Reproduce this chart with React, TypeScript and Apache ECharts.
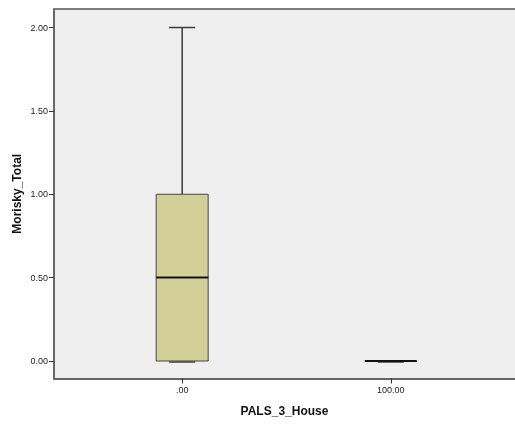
import React, { useEffect, useRef } from "react";
import * as echarts from "echarts";

// Group positions on the PALS_3_House axis and their tick labels
const groupValues = [0, 100];
const groupLabels = [".00", "100.00"];

// Five-number summaries of Morisky_Total per group
const whiskerLow = [0, 0];
const q1 = [0, 0];
const median = [0.5, 0];
const q3 = [1, 0];
const whiskerHigh = [2, 0];

const yTicks = [0, 0.5, 1, 1.5, 2];

const FONT = "'Liberation Sans', Arial, sans-serif";

export default function App() {
  const ref = useRef<HTMLDivElement>(null);

  useEffect(() => {
    if (!ref.current) return;
    const chart = echarts.init(ref.current, undefined, { renderer: "svg" });

    const data = groupValues.map((g, i) => [
      g,
      whiskerLow[i],
      q1[i],
      median[i],
      q3[i],
      whiskerHigh[i],
    ]);

    const halfBox = 26;
    const halfCap = 13;

    const renderItem = (params: any, api: any) => {
      const x = api.value(0);
      const lo = api.coord([x, api.value(1)]);
      const b1 = api.coord([x, api.value(2)]);
      const med = api.coord([x, api.value(3)]);
      const b3 = api.coord([x, api.value(4)]);
      const hi = api.coord([x, api.value(5)]);
      const cx = lo[0];
      const children: any[] = [];
      const whiskerStyle = { stroke: "#3a3a3a", lineWidth: 1.5 };

      // upper whisker and cap
      children.push({
        type: "line",
        shape: { x1: cx, y1: b3[1], x2: cx, y2: hi[1] },
        style: whiskerStyle,
      });
      children.push({
        type: "line",
        shape: { x1: cx - halfCap, y1: hi[1], x2: cx + halfCap, y2: hi[1] },
        style: whiskerStyle,
      });
      // lower whisker and cap
      children.push({
        type: "line",
        shape: { x1: cx, y1: b1[1], x2: cx, y2: lo[1] },
        style: whiskerStyle,
      });
      children.push({
        type: "line",
        shape: { x1: cx - halfCap, y1: lo[1] + 1, x2: cx + halfCap, y2: lo[1] + 1 },
        style: whiskerStyle,
      });
      // box
      if (b1[1] - b3[1] > 0.5) {
        children.push({
          type: "rect",
          shape: {
            x: cx - halfBox,
            y: b3[1],
            width: halfBox * 2,
            height: b1[1] - b3[1],
          },
          style: { fill: "#d3cf98", stroke: "#454545", lineWidth: 1 },
        });
      }
      // median
      children.push({
        type: "line",
        shape: { x1: cx - halfBox, y1: med[1], x2: cx + halfBox, y2: med[1] },
        style: { stroke: "#111111", lineWidth: 2 },
      });
      return { type: "group", children };
    };

    const xMin = -61.43;
    const xMax = 159.52;

    chart.setOption({
      animation: false,
      grid: {
        left: 54,
        top: 9,
        right: -3,
        bottom: 45.5,
        show: true,
        backgroundColor: "#efefef",
        borderWidth: 0,
      },
      xAxis: [
        {
          type: "value",
          min: xMin,
          max: xMax,
          name: "PALS_3_House",
          nameLocation: "middle",
          nameGap: 26,
          nameMoveOverlap: false,
          nameTextStyle: {
            fontFamily: FONT,
            fontWeight: "bold",
            fontSize: 12,
            color: "#111",
            verticalAlign: "top",
          },
          splitLine: { show: false },
          axisLine: { show: true, onZero: false, lineStyle: { color: "#666", width: 2 } },
          axisTick: {
            show: true,
            customValues: groupValues,
            length: 5,
            lineStyle: { color: "#333", width: 1 },
          },
          axisLabel: {
            customValues: groupValues,
            formatter: (v: number) => groupLabels[groupValues.indexOf(v)] ?? "",
            fontFamily: FONT,
            fontSize: 9,
            color: "#222",
            margin: 7,
          },
        },
        {
          // top frame line of the plot area
          type: "value",
          position: "top",
          min: xMin,
          max: xMax,
          splitLine: { show: false },
          axisLine: { show: true, onZero: false, lineStyle: { color: "#7a7a7a", width: 2 } },
          axisTick: { show: false },
          axisLabel: { show: false },
        },
      ],
      yAxis: {
        type: "value",
        min: -0.105,
        max: 2.111,
        name: "Morisky_Total",
        nameLocation: "middle",
        nameGap: 31,
        nameMoveOverlap: false,
        nameTextStyle: {
          fontFamily: FONT,
          fontWeight: "bold",
          fontSize: 12,
          color: "#111",
        },
        splitLine: { show: false },
        axisLine: { show: true, onZero: false, lineStyle: { color: "#666", width: 2 } },
        axisTick: {
          show: true,
          customValues: yTicks,
          length: 5,
          lineStyle: { color: "#333", width: 1 },
        },
        axisLabel: {
          customValues: yTicks,
          formatter: (v: number) => v.toFixed(2),
          fontFamily: FONT,
          fontSize: 9,
          color: "#222",
          margin: 6,
        },
      },
      series: [
        {
          type: "custom",
          renderItem,
          data,
          encode: { x: 0, y: [1, 2, 3, 4, 5] },
          clip: false,
        },
      ],
    });

    return () => chart.dispose();
  }, []);

  return (
    <div
      ref={ref}
      style={{ position: "fixed", left: 0, top: 0, width: 515, height: 424 }}
    />
  );
}
